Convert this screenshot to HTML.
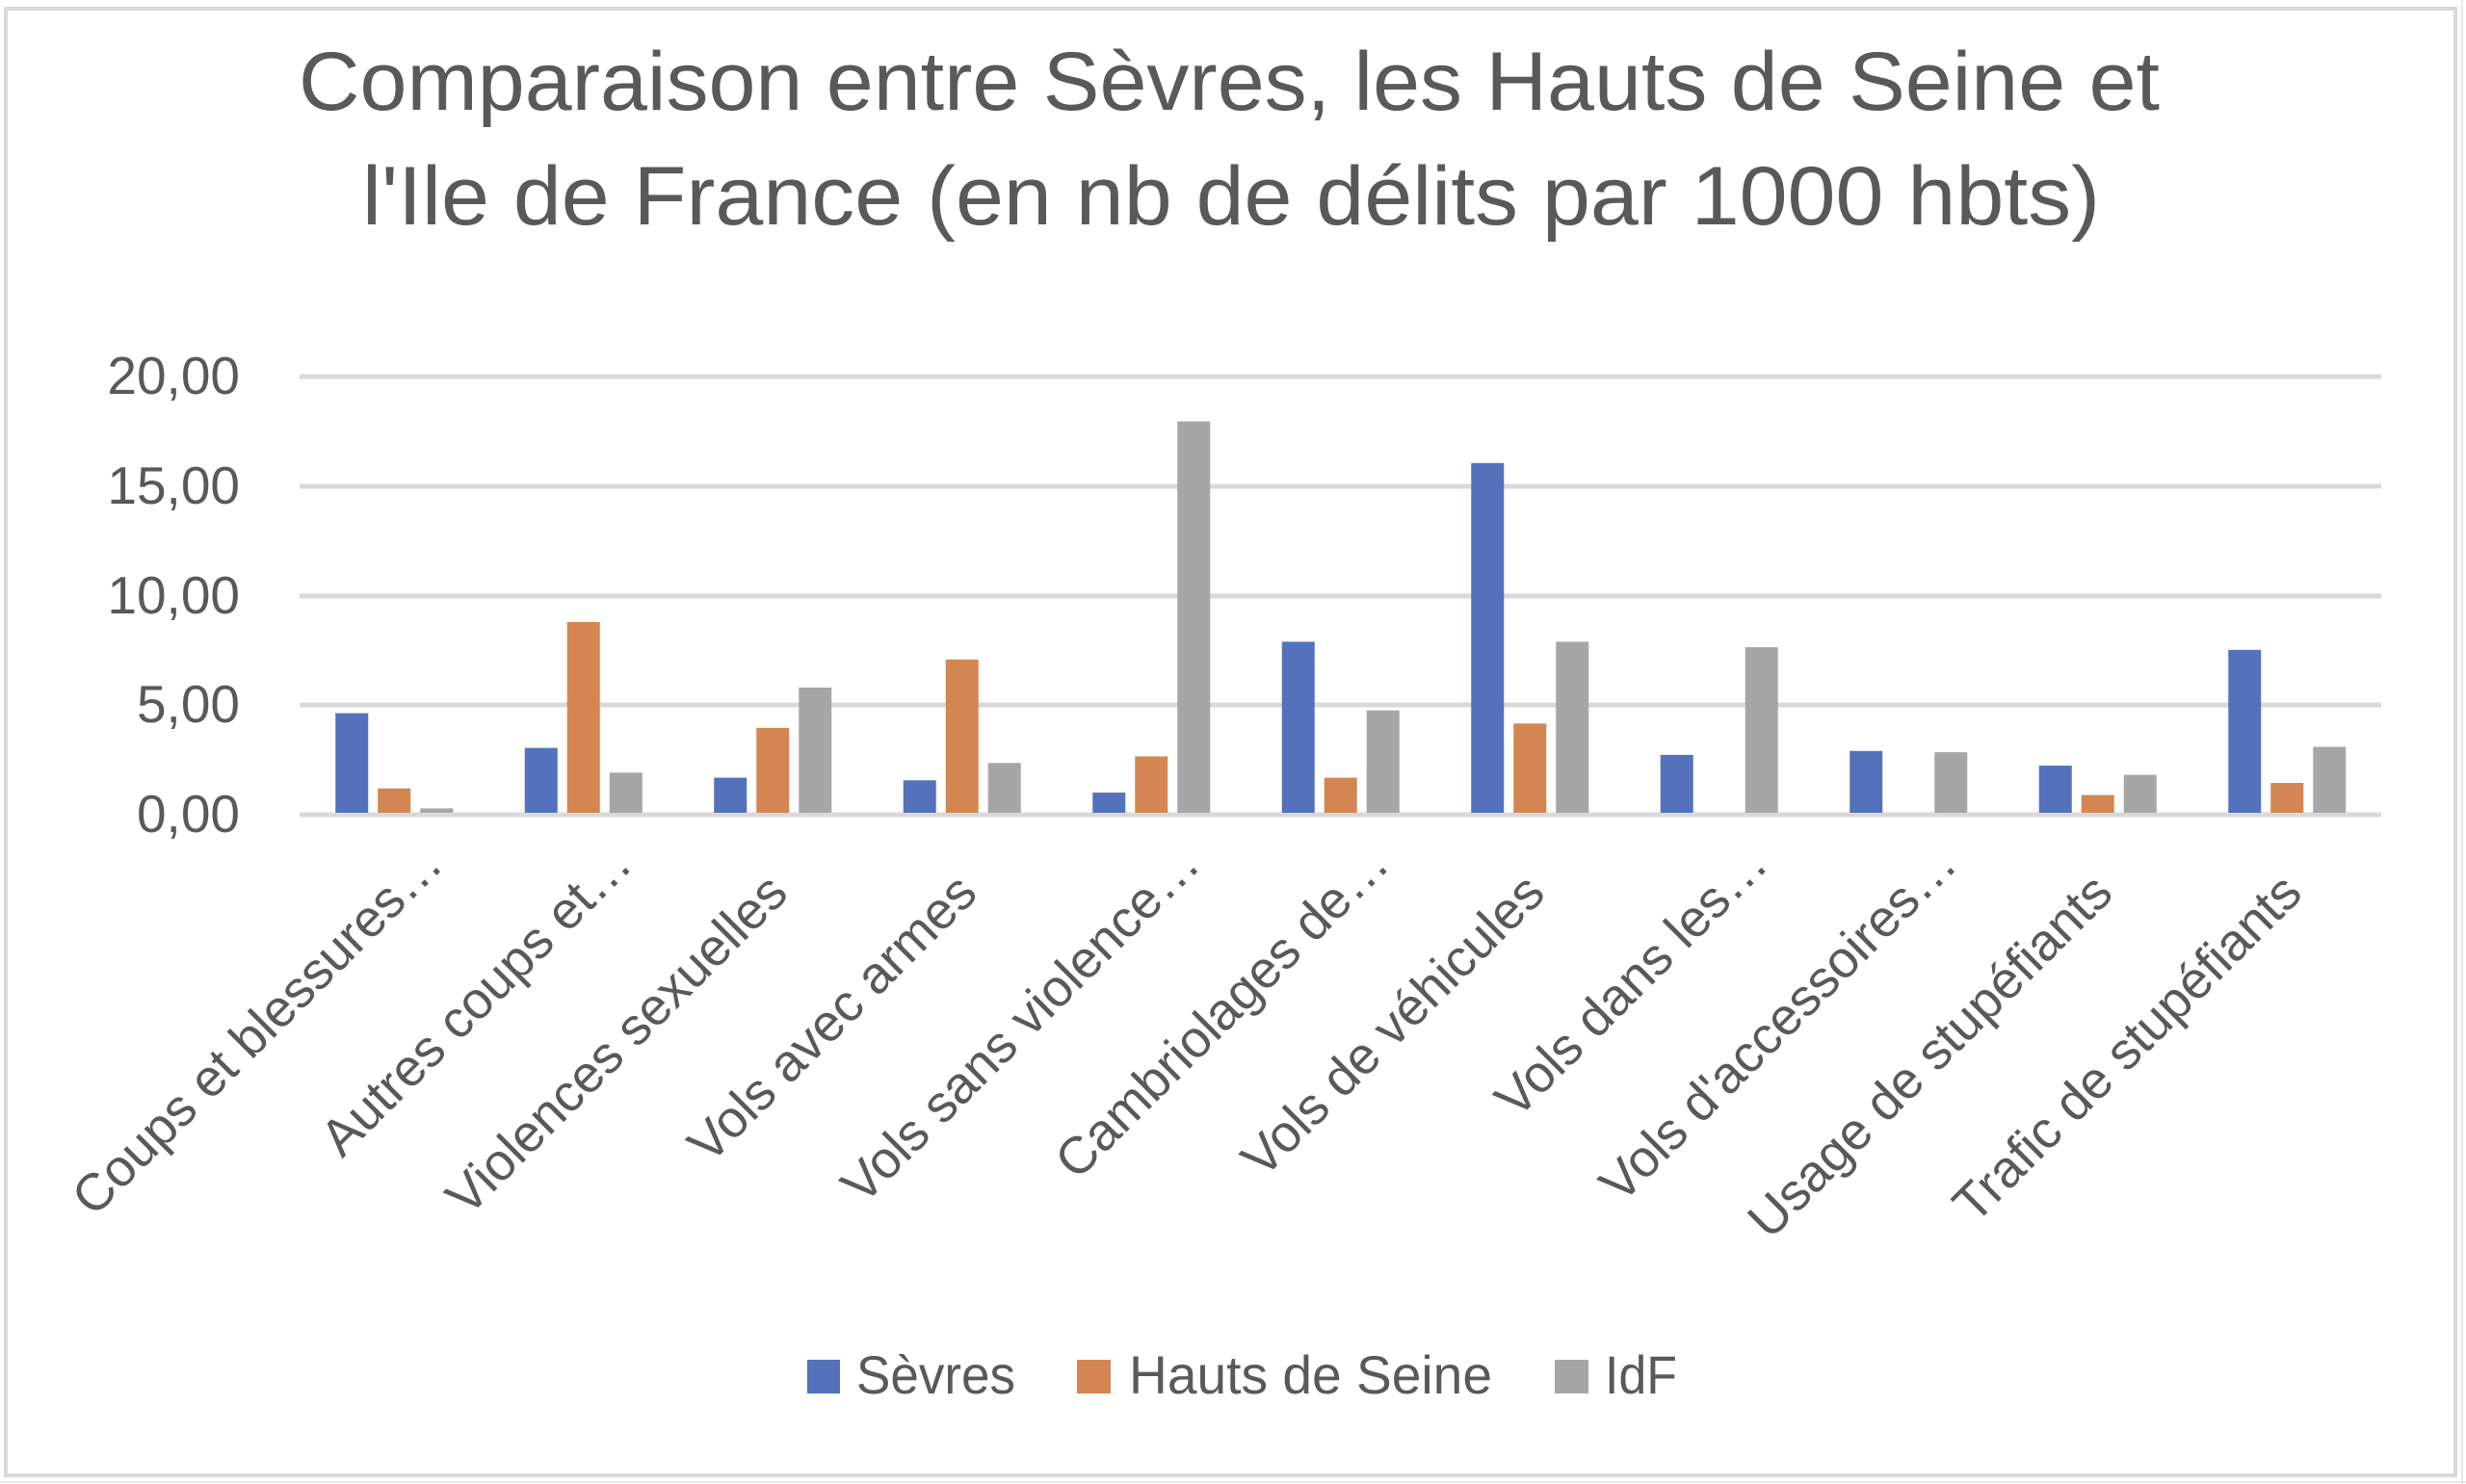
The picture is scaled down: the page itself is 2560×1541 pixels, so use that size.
<!DOCTYPE html>
<html><head><meta charset="utf-8"><style>
html,body{margin:0;padding:0;background:#fff;}
svg{display:block;}
text{font-family:"Liberation Sans",sans-serif;fill:#595959;}
</style></head><body>
<svg width="2560" height="1541" viewBox="0 0 2560 1541" xmlns="http://www.w3.org/2000/svg">
<rect x="0" y="0" width="2560" height="1541" fill="#fff"/>
<g stroke="#e6e6e6" stroke-width="2">
<line x1="2556" y1="0" x2="2556" y2="1541"/>
<line x1="0" y1="1539" x2="2560" y2="1539"/>
</g>
<rect x="6" y="9" width="2543" height="1523" fill="#fff" stroke="#d9d9d9" stroke-width="4"/>
<text x="310" y="114" font-size="86" textLength="1932" lengthAdjust="spacingAndGlyphs">Comparaison entre Sèvres, les Hauts de Seine et</text>
<text x="376" y="233" font-size="86" textLength="1804" lengthAdjust="spacingAndGlyphs">l'Ile de France (en nb de délits par 1000 hbts)</text>
<g stroke="#d9d9d9" stroke-width="5">
<line x1="311" y1="391" x2="2472" y2="391"/>
<line x1="311" y1="505" x2="2472" y2="505"/>
<line x1="311" y1="619" x2="2472" y2="619"/>
<line x1="311" y1="732" x2="2472" y2="732"/>
<line x1="311" y1="846" x2="2472" y2="846"/>
</g>
<g font-size="55" text-anchor="end">
<text x="249" y="409">20,00</text>
<text x="249" y="523">15,00</text>
<text x="249" y="637">10,00</text>
<text x="249" y="750">5,00</text>
<text x="249" y="864">0,00</text>
</g>
<g id="bars"></g>
<g id="cats" font-size="54"></g>
<rect x="838" y="1412" width="34" height="35" fill="#5472BB"/>
<text x="889" y="1447" font-size="56" textLength="165" lengthAdjust="spacingAndGlyphs">Sèvres</text>
<rect x="1118" y="1412" width="35" height="35" fill="#D38651"/>
<text x="1172" y="1447" font-size="56" textLength="377" lengthAdjust="spacingAndGlyphs">Hauts de Seine</text>
<rect x="1614" y="1412" width="35" height="35" fill="#A6A6A6"/>
<text x="1666" y="1447" font-size="56" textLength="75" lengthAdjust="spacingAndGlyphs">IdF</text>
<script>
var data=[[4.54,1.11,0.2],[2.96,8.7,1.83],[1.6,3.87,5.71],[1.48,6.99,2.27],[0.92,2.57,17.85],[7.8,1.6,4.67],[15.95,4.07,7.8],[2.64,0,7.55],[2.82,0,2.76],[2.15,0.81,1.73],[7.43,1.36,3.01]];
var labels=["Coups et blessures…","Autres coups et…","Violences sexuelles","Vols avec armes","Vols sans violence…","Cambriolages de…","Vols de véhicules","Vols dans les…","Vols d'accessoires…","Usage de stupéfiants","Trafic de stupéfiants"];
var trunc=[1,1,0,0,1,1,0,1,1,0,0];
var cols=["#5472BB","#D38651","#A6A6A6"],offs=[-61,-17,27];
var ns="http://www.w3.org/2000/svg",b=document.getElementById("bars"),c=document.getElementById("cats");
for(var i=0;i<11;i++){var cx=311+196.5*(i+0.5);
for(var j=0;j<3;j++){var v=data[i][j];if(v<=0)continue;var h=v*22.77;var r=document.createElementNS(ns,"rect");
r.setAttribute("x",cx+offs[j]);r.setAttribute("y",844-h);r.setAttribute("width",34);r.setAttribute("height",h);r.setAttribute("fill",cols[j]);b.appendChild(r);}
var t=document.createElementNS(ns,"text");var ax=trunc[i]?cx+53:cx+18,ay=trunc[i]?900:930;
t.setAttribute("text-anchor","end");t.setAttribute("transform","translate("+ax+","+ay+") rotate(-45)");t.textContent=labels[i];c.appendChild(t);}
</script>
</svg>
</body></html>
